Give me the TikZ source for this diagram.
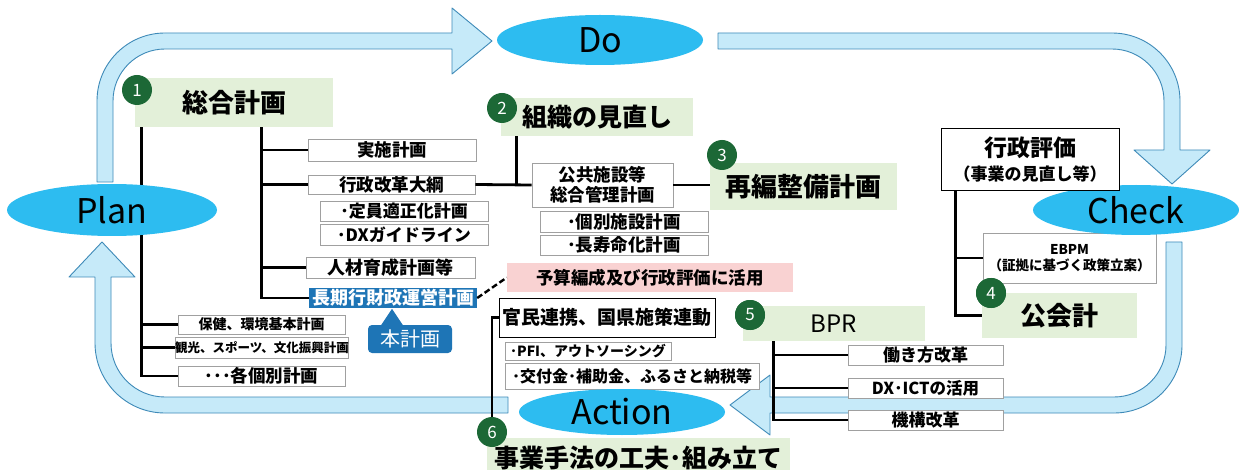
\documentclass[tikz,border=0pt]{standalone}
\usepackage{fontspec}
\setmainfont{Noto Sans CJK JP}
\usetikzlibrary{shapes.geometric,calc}
\definecolor{bandfill}{RGB}{198,234,249}
\definecolor{bandline}{RGB}{62,138,184}
\definecolor{phaseblue}{RGB}{45,188,240}
\definecolor{greenfill}{RGB}{227,240,217}
\definecolor{numgreen}{RGB}{28,104,54}
\definecolor{boxgray}{RGB}{160,160,160}
\definecolor{pinkfill}{RGB}{249,210,210}
\definecolor{hlblue}{RGB}{30,117,182}
\newcommand\fsz[1]{\fontsize{#1}{#1}\selectfont}
\begin{document}
\begin{tikzpicture}[x=1pt,y=-1pt,
  band/.style={fill=bandfill, draw=bandline, line width=0.9pt, line join=round},
  phase/.style={ellipse, fill=phaseblue, draw=none, inner sep=0pt, font=\fsz{34}},
  gbox/.style={fill=greenfill, draw=none, inner sep=0pt},
  wbox/.style={fill=white, draw=boxgray, line width=0.8pt, inner sep=0pt},
  kbox/.style={fill=white, draw=black, line width=1pt, inner sep=0pt},
  num/.style={circle, fill=numgreen, text=white, inner sep=0pt, minimum size=30pt, font=\fsz{17}},
  tree/.style={line width=2.8pt, black},
  wh/.style 2 args={minimum width=#1pt, minimum height=#2pt},
  tsz/.style={font=\bfseries\fsz{#1}}
]
\useasboundingbox (0,0) rectangle (1239,470);
\fill[white] (0,0) rectangle (1239,470);
\clip (0,0) rectangle (1239,470);

% cycle bands
\draw[band] (97,182) -- (97,101) arc[start angle=180,end angle=270,radius=68] -- (452,33) -- (452,8) -- (492,41) -- (452,74) -- (452,49) -- (165,49) arc[start angle=270,end angle=180,radius=52] -- (113,182) -- cycle;
\draw[band] (718,33) -- (1112,33) arc[start angle=270,end angle=360,radius=68] -- (1180,150) -- (1210,150) -- (1172,184) -- (1134,150) -- (1164,150) -- (1164,101) arc[start angle=0,end angle=-90,radius=52] -- (718,49) -- cycle;
\draw[band] (1166,242) -- (1182,242) -- (1182,345) arc[start angle=0,end angle=90,radius=68] -- (770,413) -- (770,435) -- (730,405) -- (770,375) -- (770,397) -- (1114,397) arc[start angle=90,end angle=0,radius=52] -- cycle;
\draw[band] (508,397) -- (508,413) -- (165,413) arc[start angle=90,end angle=180,radius=70] -- (95,277) -- (69,277) -- (102,242) -- (135,277) -- (111,277) -- (111,343) arc[start angle=180,end angle=90,radius=54] -- cycle;

% green headings
\node[gbox, wh={198}{49}, tsz=26] (sogo) at (234,102.5) {総合計画};
\node[gbox, wh={192}{38}, tsz=25] (soshiki) at (597,117) {組織の見直し};
\node[gbox, wh={187}{47}, tsz=26] (saihen) at (803.5,186.5) {再編整備計画};
\node[gbox, wh={155}{45}, tsz=26] (kokaikei) at (1059.5,315.5) {公会計};
\node[gbox, wh={182}{35}, font=\fsz{24}] (bpr) at (834,323.5) {BPR};
\node[gbox, wh={303}{40}, tsz=25] (jigyo) at (638.5,458) {事業手法の工夫･組み立て};

% white boxes
\node[wbox, wh={168}{22}, tsz=17.5] (jisshi) at (392,150) {実施計画};
\node[wbox, wh={167}{19}, tsz=17.5] (gyokaku) at (391.5,184.5) {行政改革大綱};
\node[wbox, wh={168}{20}, tsz=17] (teiin) at (404,211) {･定員適正化計画};
\node[wbox, wh={168}{21}, tsz=17] (dxg) at (404,234.5) {･DXガイドライン};
\node[wbox, wh={169}{21}, tsz=18] (jinzai) at (390.5,267.5) {人材育成計画等};
\node[fill=hlblue, text=white, inner sep=0pt, wh={168}{20}, tsz=18] (choki) at (393,298) {長期行財政運営計画};
\node[fill=hlblue, text=white, rounded corners=4pt, inner sep=0pt, wh={84}{28}, font=\fsz{20}] (honkei) at (410,339) {本計画};
\fill[hlblue] ($(honkei.north)+(-30,2)$) -- ($(honkei.north)+(-18,-16)$) -- ($(honkei.north)+(-6,2)$) -- cycle;

\node[wbox, wh={167}{19}, tsz=14] (hoken) at (261.5,324.5) {保健、環境基本計画};
\node[wbox, wh={168}{21}, tsz=12.5] (kanko) at (262,347.5) {観光、スポーツ、文化振興計画};
\node[wbox, wh={167}{20}, tsz=17.5] (kakuko) at (261.5,376) {･･･各個別計画};

\node[wbox, wh={141}{44}, tsz=17.5, align=center] (kokyo) at (602.5,185) {公共施設等\\[3pt]総合管理計画};
\node[wbox, wh={168}{21}, tsz=17.5] (kobetsu) at (624,221.5) {･個別施設計画};
\node[wbox, wh={168}{20}, tsz=17.5] (chojumyo) at (624,245) {･長寿命化計画};
\node[fill=pinkfill, inner sep=0pt, wh={286}{29}, tsz=17.5] (yosan) at (650,277.5) {予算編成及び行政評価に活用};
\node[kbox, wh={216}{39}, tsz=19] (kanmin) at (607,317.5) {官民連携、国県施策連動};
\node[wbox, wh={166}{18}, tsz=14] (pfi) at (588,351) {･PFI、アウトソーシング};
\node[wbox, wh={254}{26}, tsz=16] (kofu) at (632,376) {･交付金･補助金、ふるさと納税等};

\node[wbox, wh={173}{50}, tsz=13.5, align=center] (ebpm) at (1069.5,258) {EBPM\\[3pt]（証拠に基づく政策立案）};
\node[wbox, wh={155}{20}, tsz=17] (hataraki) at (925.5,355) {働き方改革};
\node[wbox, wh={155}{20}, tsz=16.5] (dxict) at (925.5,388) {DX･ICTの活用};
\node[wbox, wh={155}{20}, tsz=17] (kiko) at (925.5,420) {機構改革};

% tree connectors
\coordinate (t1) at ([xshift=7pt]sogo.south west);
\coordinate (t2) at ([xshift=127pt]sogo.south west);
\draw[tree] (t1) |- (kakuko.west);
\draw[tree] (hoken.west) -- (hoken.west -| t1);
\draw[tree] (kanko.west) -- (kanko.west -| t1);
\draw[tree] (t2) |- (choki.west);
\draw[tree] (jisshi.west) -- (jisshi.west -| t2);
\draw[tree] (gyokaku.west) -- (gyokaku.west -| t2);
\draw[tree] (jinzai.west) -- (jinzai.west -| t2);
\draw[tree] (gyokaku.east) -- (kokyo.west);
\coordinate (t5) at ([xshift=16pt]soshiki.south west);
\draw[tree] (t5) -- (t5 |- kokyo.west);
\draw[tree] (kokyo.east) -- (kokyo.east -| saihen.west);
\draw[line width=2.4pt, dashed, dash pattern=on 6pt off 3pt] (choki.east) -- (yosan.west);

% numbers
\node[num] (n1) at (137,90) {1};
\node[num] (n2) at (502,108) {2};
\node[num] (n3) at (722,155) {3};
\node[num] (n4) at (991,293) {4};
\node[num] (n5) at (750,315) {5};
\node[num] (n6) at (492,432) {6};
\draw[line width=2.5pt] (kanmin.west) -| (n6.north);

% phases
\node[phase, minimum width=210pt, minimum height=52pt] (plan) at (112,210) {Plan};
\node[phase, minimum width=206pt, minimum height=50pt] (do) at (600,40) {Do};
\node[phase, minimum width=206pt, minimum height=50pt] (check) at (1136,210) {Check};
\node[phase, minimum width=206pt, minimum height=46pt] (action) at (622,412) {Action};

% right tree
\node[kbox, wh={178}{62}, align=center] (gyosei) at (1030,160) {{\bfseries\fsz{23}行政評価}\\[6pt]{\bfseries\fsz{17}（事業の見直し等）}};
\coordinate (t3) at ([xshift=15pt]gyosei.south west);
\draw[tree] (t3) |- (kokaikei.west);
\draw[tree] (ebpm.west) -- (ebpm.west -| t3);
\coordinate (t4) at ([xshift=31pt]bpr.south west);
\draw[tree] (t4) |- (kiko.west);
\draw[tree] (hataraki.west) -- (hataraki.west -| t4);
\draw[tree] (dxict.west) -- (dxict.west -| t4);
\node[num] at (n4) {4};
\node[num] at (n5) {5};
\end{tikzpicture}
\end{document}
